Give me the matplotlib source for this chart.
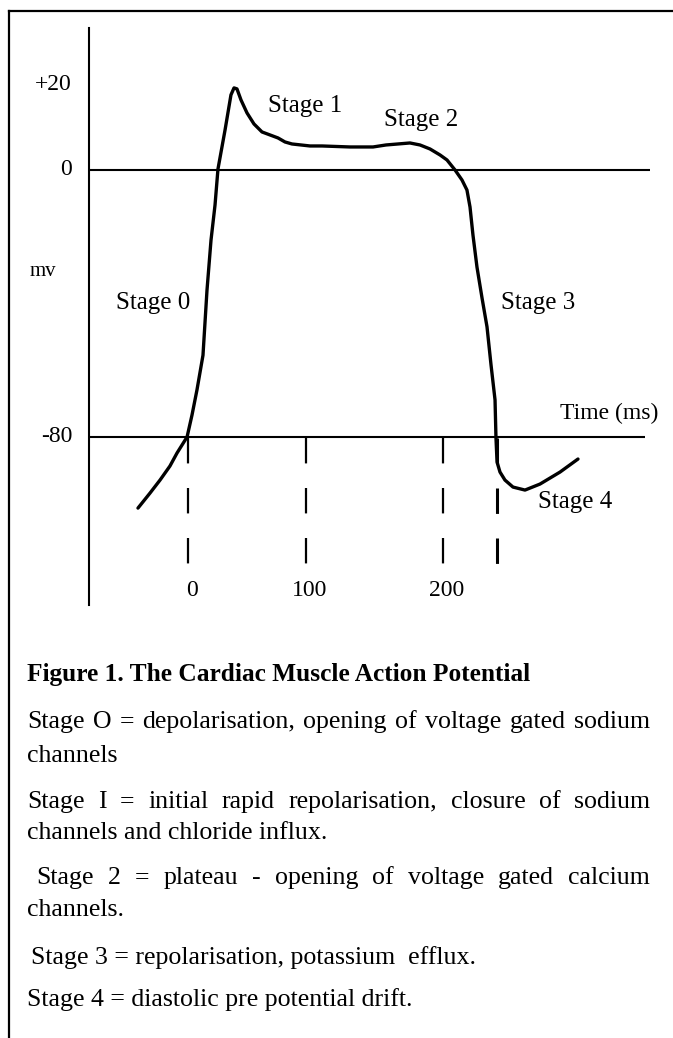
import matplotlib
matplotlib.use('Agg')
import matplotlib.pyplot as plt
from matplotlib.transforms import Affine2D

# ---------------- data ----------------
time_ms = [-42.4, -32.2, -23.7, -15.3, -9.3, -0.8, 3.4, 7.6, 12.7, 16.1, 19.5, 22.9,
           25.4, 31.4, 36.4, 39.0, 41.5, 44.9, 50.0, 55.9, 62.7, 69.5, 76.3, 82.2,
           88.1, 103.4, 113.6, 137.3, 156.8, 167.8, 178.0, 188.1, 196.6, 205.1,
           213.6, 219.5, 226.3, 232.2, 236.4, 239.0, 241.5, 244.9, 249.2, 253.4,
           256.8, 260.2, 261.0, 261.9, 264.4, 268.6, 275.4, 285.6, 298.3, 315.3, 330.5]
voltage_mv = [-101.3, -96.8, -92.9, -88.7, -84.8, -80.0, -73.4, -65.9, -55.5, -36.0,
              -21.0, -10.5, 0.3, 12.0, 22.5, 24.6, 24.3, 21.0, 17.1, 13.8, 11.4, 10.5,
              9.6, 8.4, 7.8, 7.2, 7.2, 6.9, 6.9, 7.5, 7.8, 8.1, 7.5, 6.3, 4.5, 3.0, 0.0,
              -3.0, -6.0, -11.1, -19.5, -29.1, -38.4, -47.0, -58.4, -68.9, -80.3, -87.5,
              -90.5, -92.9, -95.0, -95.9, -94.1, -90.5, -86.6]

marker_times = [0, 100, 216, 262]          # dashed time markers
tick_times = [0, 100, 216]
tick_labels = ['0', '100', '200']
ylabel_vals = [25.5, 0, -80]
ylabel_texts = ['+20', '0', '-80']
ref_levels = [0, -80]

stage_labels = ['Stage 0', 'Stage 1', 'Stage 2', 'Stage 3', 'Stage 4']
caption_title = 'Figure 1. The Cardiac Muscle Action Potential'
caption_lines = [
    'Stage O = depolarisation, opening of voltage gated sodium',
    'channels',
    'Stage I = initial rapid repolarisation, closure of sodium',
    'channels and chloride influx.',
    'Stage 2 = plateau - opening of voltage gated calcium',
    'channels.',
    'Stage 3 = repolarisation, potassium  efflux.',
    'Stage 4 = diastolic pre potential drift.',
]

# ---------------- figure ----------------
W, H = 673, 1038
plt.rcParams['font.family'] = ['Liberation Serif', 'DejaVu Serif']
plt.rcParams['lines.scale_dashes'] = False

fig = plt.figure(figsize=(W / 100, H / 100), dpi=100)
fig.patch.set_facecolor('white')
ax = fig.add_axes([0, 0, 1, 1])
ax.axis('off')
# data -> pixel mapping: x_px = 188 + 1.18*t ; y_px = 170 - 3.3375*v
ax.set_xlim(-188 / 1.18, (W - 188) / 1.18)
ax.set_ylim((170 - H) / 3.3375, 170 / 3.3375)

px = Affine2D().scale(1 / W, -1 / H).translate(0, 1) + fig.transFigure

def tx(p):
    return (p - 188) / 1.18

def ty(p):
    return (170 - p) / 3.3375

# frame (top and left)
ax.plot([9, W], [11, 11], transform=px, color='black', lw=1.6, clip_on=False)
ax.plot([9, 9], [11, H], transform=px, color='black', lw=1.6, clip_on=False)

# axis lines
ax.plot([tx(89), tx(89)], [ty(28), ty(605)], color='black', lw=1.5)
ax.hlines(ref_levels[0], tx(89), tx(650), color='black', lw=1.5)
ax.hlines(ref_levels[1], tx(89), tx(645), color='black', lw=1.5)

# dashed time markers
for i, t in enumerate(marker_times):
    ax.plot([t, t], [ty(438), ty(565)], color='black',
            lw=2.2 if i == 3 else 1.6, linestyle=(0, (18.3, 17.7)))

# action potential curve
ax.plot(time_ms, voltage_mv, color='black', lw=2.4,
        solid_joinstyle='round', solid_capstyle='round')

# tick labels
for t, lab in zip(tick_times, tick_labels):
    ax.text(t + 3, ty(590), lab, ha='center', va='center', fontsize=17)
for v, lab in zip(ylabel_vals, ylabel_texts):
    ax.text(tx(72), v, lab, ha='right', va='center', fontsize=17)
ax.text(tx(30), ty(272), 'mv', ha='left', va='center', fontsize=15)
ax.text(tx(560), ty(413), 'Time (ms)', ha='left', va='center', fontsize=17)

# stage labels
stage_pos = [(153, 303), (305, 106), (421, 120), (538, 303), (575, 502)]
for lab, (x, y) in zip(stage_labels, stage_pos):
    ax.text(x, y, lab, transform=px, ha='center', va='center', fontsize=18)

# caption
r = fig.canvas.get_renderer()
fig.text(27, 681, caption_title, transform=px, ha='left', va='baseline',
         fontsize=18.3, fontweight='bold')

def draw_line(text, x0, y, x1=None, size=18.6):
    if x1 is None:
        fig.text(x0, y, text, transform=px, ha='left', va='baseline', fontsize=size)
        return
    words = text.split()
    objs = [fig.text(0, y, w_, transform=px, ha='left', va='baseline', fontsize=size)
            for w_ in words]
    widths = [o.get_window_extent(r).width for o in objs]
    gap = (x1 - x0 - sum(widths)) / (len(words) - 1)
    x = x0
    for o, w_ in zip(objs, widths):
        o.set_x(x)
        x += w_ + gap

line_specs = [(27, 728, 650), (27, 762, None), (27, 808, 650), (27, 839, None),
              (36, 884, 650), (27, 916, None), (31, 964, None), (27, 1006, None)]
for text, (x0, y, x1) in zip(caption_lines, line_specs):
    draw_line(text, x0, y, x1)

fig.savefig('out.png', dpi=100, facecolor='white')
